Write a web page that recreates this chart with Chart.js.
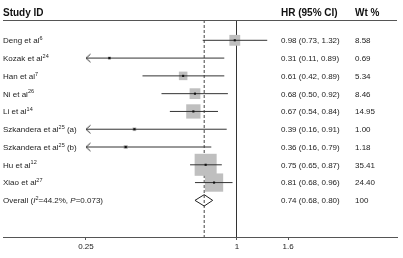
<!DOCTYPE html>
<html><head><meta charset="utf-8">
<script src="https://cdn.jsdelivr.net/npm/chart.js@4.4.1/dist/chart.umd.min.js"></script>
<style>html,body{margin:0;padding:0;background:#fff;}canvas{display:block;}</style>
</head><body>
<canvas id="c" width="403" height="258" style="width:403px;height:258px"></canvas>
<script>
// ---- data ----
const studies = ['Deng et al', 'Kozak et al', 'Han et al', 'Ni et al', 'Li et al', 'Szkandera et al', 'Szkandera et al', 'Hu et al', 'Xiao et al'];
const refs = ['6', '24', '7', '26', '14', '25', '25', '12', '27'];
const suffixes = ['', '', '', '', '', ' (a)', ' (b)', '', ''];
const hr = [0.98, 0.31, 0.61, 0.68, 0.67, 0.39, 0.36, 0.75, 0.81];
const ciLow = [0.73, 0.11, 0.42, 0.50, 0.54, 0.16, 0.16, 0.65, 0.68];
const ciHigh = [1.32, 0.89, 0.89, 0.92, 0.84, 0.91, 0.79, 0.87, 0.96];
const weights = [8.58, 0.69, 5.34, 8.46, 14.95, 1.00, 1.18, 35.41, 24.40];
const overallHR = 0.74, overallLow = 0.68, overallHigh = 0.80, overallWeight = '100';
const overallI2 = '44.2%', overallP = '0.073';
const tickValues = [0.25, 1, 1.6];
const tickLabels = ['0.25', '1', '1.6'];
const clipLow = 0.25;   // CI lines are cut here and shown with an arrow

// ---- layout / style constants ----
const FONT = '"Liberation Sans", Arial, Helvetica, sans-serif';
const X_MIN = 0.1167, X_MAX = 4.345;
const Y_MIN = -0.142, Y_MAX = 12.06;
const DIAMOND_HALF = 0.32;
const BOX_SCALE = 3.7;
const LINE = '#333';

const rows = studies.map((_, i) => i + 1);
const overallRow = studies.length + 1;

// arrow marker "<" with its tip at the centre
const arrow = document.createElement('canvas');
arrow.width = 12; arrow.height = 11;
(function () {
  const g = arrow.getContext('2d');
  g.strokeStyle = LINE; g.lineWidth = 1;
  g.beginPath(); g.moveTo(10.5, 1.5); g.lineTo(6, 5.5); g.lineTo(10.5, 9.5); g.stroke();
})();

const ciData = [];
rows.forEach((r, i) => {
  ciData.push({x: Math.max(ciLow[i], clipLow), y: r});
  ciData.push({x: ciHigh[i], y: r});
  ciData.push({x: null, y: null});
});
const arrowData = [];
rows.forEach((r, i) => { if (ciLow[i] < clipLow) arrowData.push({x: clipLow, y: r}); });

const diamond = [
  {x: overallLow, y: overallRow}, {x: overallHR, y: overallRow - DIAMOND_HALF},
  {x: overallHigh, y: overallRow}, {x: overallHR, y: overallRow + DIAMOND_HALF},
  {x: overallLow, y: overallRow}
];

function drawRich(ctx, parts, x, yMid) {
  const base = yMid + 2.9;
  parts.forEach(p => {
    if (p.sup) {
      ctx.font = '5.5px ' + FONT;
      ctx.fillText(p.t, x, yMid - 0.3);
    } else {
      ctx.font = (p.it ? 'italic ' : '') + '8px ' + FONT;
      ctx.fillText(p.t, x, base);
    }
    x += ctx.measureText(p.t).width;
  });
}

const textPlugin = {
  id: 'forestText',
  afterDraw(chart) {
    const ctx = chart.ctx, ys = chart.scales.y, a = chart.chartArea;
    ctx.save();
    ctx.strokeStyle = '#555'; ctx.lineWidth = 1;
    ctx.beginPath(); ctx.moveTo(a.left, Math.round(a.top) + 0.5); ctx.lineTo(a.right, Math.round(a.top) + 0.5); ctx.stroke();
    ctx.fillStyle = '#111'; ctx.textBaseline = 'alphabetic'; ctx.textAlign = 'left';
    ctx.font = 'bold 10px ' + FONT;
    ctx.fillText('Study ID', 3, 16);
    ctx.fillText('HR (95% CI)', 281, 16);
    ctx.fillText('Wt %', 355, 16);
    ctx.fillStyle = '#222';
    rows.forEach((r, i) => {
      const y = ys.getPixelForValue(r);
      drawRich(ctx, [{t: studies[i]}, {t: refs[i], sup: true}, {t: suffixes[i]}], 3, y);
      drawRich(ctx, [{t: hr[i].toFixed(2) + ' (' + ciLow[i].toFixed(2) + ', ' + ciHigh[i].toFixed(2) + ')'}], 281, y);
      drawRich(ctx, [{t: weights[i].toFixed(2)}], 355, y);
    });
    const yo = ys.getPixelForValue(overallRow);
    drawRich(ctx, [{t: 'Overall ('}, {t: 'I', it: true}, {t: '2', sup: true}, {t: '=' + overallI2 + ', '}, {t: 'P', it: true}, {t: '=' + overallP + ')'}], 3, yo);
    drawRich(ctx, [{t: overallHR.toFixed(2) + ' (' + overallLow.toFixed(2) + ', ' + overallHigh.toFixed(2) + ')'}], 281, yo);
    drawRich(ctx, [{t: overallWeight}], 355, yo);
    ctx.restore();
  }
};

Chart.defaults.font.family = FONT;
new Chart(document.getElementById('c'), {
  data: {
    datasets: [
      { type: 'scatter', data: rows.map((r, i) => ({x: hr[i], y: r})), pointStyle: 'rect',
        pointRadius: 1.5, backgroundColor: '#111', borderWidth: 0 },
      { type: 'scatter', data: arrowData, pointStyle: arrow, pointRadius: 6 },
      { type: 'line', data: ciData, borderColor: LINE, borderWidth: 1, pointRadius: 0, spanGaps: false, fill: false, tension: 0 },
      { type: 'line', data: diamond, borderColor: '#222', borderWidth: 1, pointRadius: 0, fill: false, tension: 0 },
      { type: 'scatter', data: rows.map((r, i) => ({x: hr[i], y: r})), pointStyle: 'rect',
        pointRadius: ctx => BOX_SCALE * Math.sqrt(weights[ctx.dataIndex]) / Math.SQRT2,
        backgroundColor: '#bfbfbf', borderWidth: 0 },
      { type: 'line', data: [{x: overallHR, y: Y_MIN}, {x: overallHR, y: Y_MAX}], borderColor: '#444',
        borderWidth: 1, borderDash: [3, 2], pointRadius: 0, fill: false }
    ]
  },
  options: {
    responsive: false, animation: false, devicePixelRatio: 1,
    layout: { autoPadding: false, padding: { top: 20, left: 3, right: 6, bottom: 4.4 } },
    plugins: { legend: { display: false }, tooltip: { enabled: false } },
    scales: {
      x: {
        type: 'logarithmic', min: X_MIN, max: X_MAX, bounds: 'data', position: 'bottom',
        afterBuildTicks: s => { s.ticks = tickValues.map(v => ({value: v})); },
        afterFit: s => { s.paddingLeft = 0; s.paddingRight = 0; },
        ticks: { autoSkip: false, maxRotation: 0, padding: 2, color: '#222', font: { size: 8 },
          callback: v => tickLabels[tickValues.indexOf(v)] },
        grid: { drawOnChartArea: true, drawTicks: true, tickLength: 3, tickColor: '#555', lineWidth: 1,
          color: ctx => (ctx.tick && ctx.tick.value === 1) ? LINE : 'rgba(0,0,0,0)' },
        border: { display: true, color: '#555', width: 1 }
      },
      y: { type: 'linear', min: Y_MIN, max: Y_MAX, reverse: true, display: false }
    }
  },
  plugins: [textPlugin]
});
</script>
</body></html>
